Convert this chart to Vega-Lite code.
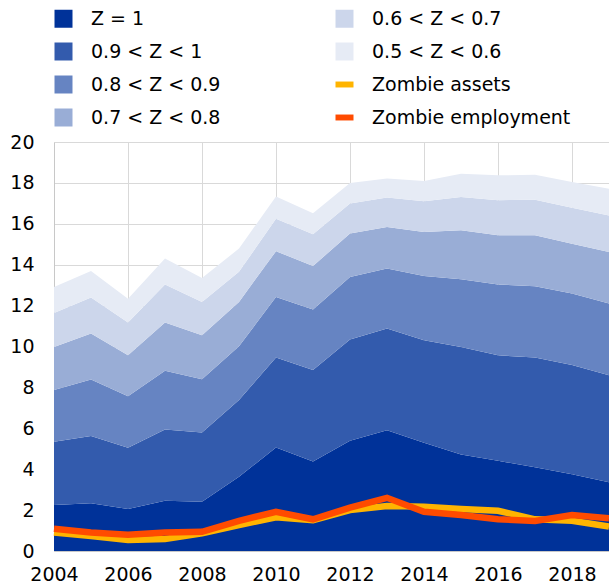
{
  "$schema": "https://vega.github.io/schema/vega-lite/v6.json",
  "width": 555,
  "height": 409,
  "autosize": {"type": "none"},
  "padding": {"left": 54, "top": 142, "right": 0, "bottom": 33},
  "background": "white",
  "config": {"view": {"stroke": null}, "font": "DejaVu Sans"},
  "datasets": {
    "bands": [
      {"year": 2004, "cat": "Z = 1", "v": 2.25}, {"year": 2004, "cat": "0.9 < Z < 1", "v": 3.09}, {"year": 2004, "cat": "0.8 < Z < 0.9", "v": 2.53}, {"year": 2004, "cat": "0.7 < Z < 0.8", "v": 2.11}, {"year": 2004, "cat": "0.6 < Z < 0.7", "v": 1.66}, {"year": 2004, "cat": "0.5 < Z < 0.6", "v": 1.27},
      {"year": 2005, "cat": "Z = 1", "v": 2.33}, {"year": 2005, "cat": "0.9 < Z < 1", "v": 3.29}, {"year": 2005, "cat": "0.8 < Z < 0.9", "v": 2.77}, {"year": 2005, "cat": "0.7 < Z < 0.8", "v": 2.24}, {"year": 2005, "cat": "0.6 < Z < 0.7", "v": 1.76}, {"year": 2005, "cat": "0.5 < Z < 0.6", "v": 1.30},
      {"year": 2006, "cat": "Z = 1", "v": 2.05}, {"year": 2006, "cat": "0.9 < Z < 1", "v": 3.00}, {"year": 2006, "cat": "0.8 < Z < 0.9", "v": 2.52}, {"year": 2006, "cat": "0.7 < Z < 0.8", "v": 2.00}, {"year": 2006, "cat": "0.6 < Z < 0.7", "v": 1.60}, {"year": 2006, "cat": "0.5 < Z < 0.6", "v": 1.17},
      {"year": 2007, "cat": "Z = 1", "v": 2.46}, {"year": 2007, "cat": "0.9 < Z < 1", "v": 3.48}, {"year": 2007, "cat": "0.8 < Z < 0.9", "v": 2.87}, {"year": 2007, "cat": "0.7 < Z < 0.8", "v": 2.36}, {"year": 2007, "cat": "0.6 < Z < 0.7", "v": 1.86}, {"year": 2007, "cat": "0.5 < Z < 0.6", "v": 1.27},
      {"year": 2008, "cat": "Z = 1", "v": 2.41}, {"year": 2008, "cat": "0.9 < Z < 1", "v": 3.39}, {"year": 2008, "cat": "0.8 < Z < 0.9", "v": 2.60}, {"year": 2008, "cat": "0.7 < Z < 0.8", "v": 2.15}, {"year": 2008, "cat": "0.6 < Z < 0.7", "v": 1.63}, {"year": 2008, "cat": "0.5 < Z < 0.6", "v": 1.17},
      {"year": 2009, "cat": "Z = 1", "v": 3.63}, {"year": 2009, "cat": "0.9 < Z < 1", "v": 3.75}, {"year": 2009, "cat": "0.8 < Z < 0.9", "v": 2.63}, {"year": 2009, "cat": "0.7 < Z < 0.8", "v": 2.17}, {"year": 2009, "cat": "0.6 < Z < 0.7", "v": 1.47}, {"year": 2009, "cat": "0.5 < Z < 0.6", "v": 1.14},
      {"year": 2010, "cat": "Z = 1", "v": 5.06}, {"year": 2010, "cat": "0.9 < Z < 1", "v": 4.40}, {"year": 2010, "cat": "0.8 < Z < 0.9", "v": 2.96}, {"year": 2010, "cat": "0.7 < Z < 0.8", "v": 2.24}, {"year": 2010, "cat": "0.6 < Z < 0.7", "v": 1.59}, {"year": 2010, "cat": "0.5 < Z < 0.6", "v": 1.09},
      {"year": 2011, "cat": "Z = 1", "v": 4.38}, {"year": 2011, "cat": "0.9 < Z < 1", "v": 4.47}, {"year": 2011, "cat": "0.8 < Z < 0.9", "v": 2.96}, {"year": 2011, "cat": "0.7 < Z < 0.8", "v": 2.13}, {"year": 2011, "cat": "0.6 < Z < 0.7", "v": 1.55}, {"year": 2011, "cat": "0.5 < Z < 0.6", "v": 1.03},
      {"year": 2012, "cat": "Z = 1", "v": 5.39}, {"year": 2012, "cat": "0.9 < Z < 1", "v": 4.95}, {"year": 2012, "cat": "0.8 < Z < 0.9", "v": 3.06}, {"year": 2012, "cat": "0.7 < Z < 0.8", "v": 2.12}, {"year": 2012, "cat": "0.6 < Z < 0.7", "v": 1.47}, {"year": 2012, "cat": "0.5 < Z < 0.6", "v": 1.00},
      {"year": 2013, "cat": "Z = 1", "v": 5.91}, {"year": 2013, "cat": "0.9 < Z < 1", "v": 4.97}, {"year": 2013, "cat": "0.8 < Z < 0.9", "v": 2.93}, {"year": 2013, "cat": "0.7 < Z < 0.8", "v": 2.03}, {"year": 2013, "cat": "0.6 < Z < 0.7", "v": 1.44}, {"year": 2013, "cat": "0.5 < Z < 0.6", "v": 0.93},
      {"year": 2014, "cat": "Z = 1", "v": 5.29}, {"year": 2014, "cat": "0.9 < Z < 1", "v": 5.02}, {"year": 2014, "cat": "0.8 < Z < 0.9", "v": 3.14}, {"year": 2014, "cat": "0.7 < Z < 0.8", "v": 2.15}, {"year": 2014, "cat": "0.6 < Z < 0.7", "v": 1.50}, {"year": 2014, "cat": "0.5 < Z < 0.6", "v": 0.99},
      {"year": 2015, "cat": "Z = 1", "v": 4.72}, {"year": 2015, "cat": "0.9 < Z < 1", "v": 5.26}, {"year": 2015, "cat": "0.8 < Z < 0.9", "v": 3.31}, {"year": 2015, "cat": "0.7 < Z < 0.8", "v": 2.39}, {"year": 2015, "cat": "0.6 < Z < 0.7", "v": 1.63}, {"year": 2015, "cat": "0.5 < Z < 0.6", "v": 1.14},
      {"year": 2016, "cat": "Z = 1", "v": 4.41}, {"year": 2016, "cat": "0.9 < Z < 1", "v": 5.16}, {"year": 2016, "cat": "0.8 < Z < 0.9", "v": 3.46}, {"year": 2016, "cat": "0.7 < Z < 0.8", "v": 2.41}, {"year": 2016, "cat": "0.6 < Z < 0.7", "v": 1.71}, {"year": 2016, "cat": "0.5 < Z < 0.6", "v": 1.22},
      {"year": 2017, "cat": "Z = 1", "v": 4.09}, {"year": 2017, "cat": "0.9 < Z < 1", "v": 5.37}, {"year": 2017, "cat": "0.8 < Z < 0.9", "v": 3.49}, {"year": 2017, "cat": "0.7 < Z < 0.8", "v": 2.49}, {"year": 2017, "cat": "0.6 < Z < 0.7", "v": 1.74}, {"year": 2017, "cat": "0.5 < Z < 0.6", "v": 1.22},
      {"year": 2018, "cat": "Z = 1", "v": 3.75}, {"year": 2018, "cat": "0.9 < Z < 1", "v": 5.34}, {"year": 2018, "cat": "0.8 < Z < 0.9", "v": 3.50}, {"year": 2018, "cat": "0.7 < Z < 0.8", "v": 2.44}, {"year": 2018, "cat": "0.6 < Z < 0.7", "v": 1.76}, {"year": 2018, "cat": "0.5 < Z < 0.6", "v": 1.25},
      {"year": 2019, "cat": "Z = 1", "v": 3.36}, {"year": 2019, "cat": "0.9 < Z < 1", "v": 5.24}, {"year": 2019, "cat": "0.8 < Z < 0.9", "v": 3.50}, {"year": 2019, "cat": "0.7 < Z < 0.8", "v": 2.52}, {"year": 2019, "cat": "0.6 < Z < 0.7", "v": 1.79}, {"year": 2019, "cat": "0.5 < Z < 0.6", "v": 1.31}
    ],
    "zombie": [
      {"year": 2004, "cat": "Zombie assets", "v": 0.91}, {"year": 2005, "cat": "Zombie assets", "v": 0.73}, {"year": 2006, "cat": "Zombie assets", "v": 0.54}, {"year": 2007, "cat": "Zombie assets", "v": 0.59},
      {"year": 2008, "cat": "Zombie assets", "v": 0.86}, {"year": 2009, "cat": "Zombie assets", "v": 1.27}, {"year": 2010, "cat": "Zombie assets", "v": 1.65}, {"year": 2011, "cat": "Zombie assets", "v": 1.51},
      {"year": 2012, "cat": "Zombie assets", "v": 2.00}, {"year": 2013, "cat": "Zombie assets", "v": 2.20}, {"year": 2014, "cat": "Zombie assets", "v": 2.17}, {"year": 2015, "cat": "Zombie assets", "v": 2.05},
      {"year": 2016, "cat": "Zombie assets", "v": 1.97}, {"year": 2017, "cat": "Zombie assets", "v": 1.55}, {"year": 2018, "cat": "Zombie assets", "v": 1.48}, {"year": 2019, "cat": "Zombie assets", "v": 1.19},
      {"year": 2004, "cat": "Zombie employment", "v": 1.09}, {"year": 2005, "cat": "Zombie employment", "v": 0.90}, {"year": 2006, "cat": "Zombie employment", "v": 0.80}, {"year": 2007, "cat": "Zombie employment", "v": 0.90},
      {"year": 2008, "cat": "Zombie employment", "v": 0.94}, {"year": 2009, "cat": "Zombie employment", "v": 1.47}, {"year": 2010, "cat": "Zombie employment", "v": 1.92}, {"year": 2011, "cat": "Zombie employment", "v": 1.55},
      {"year": 2012, "cat": "Zombie employment", "v": 2.12}, {"year": 2013, "cat": "Zombie employment", "v": 2.60}, {"year": 2014, "cat": "Zombie employment", "v": 1.92}, {"year": 2015, "cat": "Zombie employment", "v": 1.76},
      {"year": 2016, "cat": "Zombie employment", "v": 1.55}, {"year": 2017, "cat": "Zombie employment", "v": 1.47}, {"year": 2018, "cat": "Zombie employment", "v": 1.76}, {"year": 2019, "cat": "Zombie employment", "v": 1.60}
    ]
  },
  "layer": [
    {
      "data": {"name": "bands"},
      "mark": {"type": "area"},
      "encoding": {
        "x": {
          "field": "year", "type": "quantitative",
          "scale": {"domain": [2004, 2019], "nice": false, "zero": false},
          "axis": {
            "title": null, "values": [2004, 2005, 2006, 2007, 2008, 2009, 2010, 2011, 2012, 2013, 2014, 2015, 2016, 2017, 2018, 2019],
            "format": "d", "labelExpr": "datum.value % 2 == 0 ? datum.label : ''",
            "grid": true, "gridColor": "#d9d9d9", "gridWidth": 1, "ticks": false,
            "domain": true, "domainColor": "#c8c8c8", "domainWidth": 1,
            "labelFontSize": 19, "labelFont": "DejaVu Sans", "labelColor": "#000000", "labelPadding": 14, "labelFlush": false, "labelOverlap": false
          }
        },
        "y": {
          "field": "v", "type": "quantitative", "stack": "zero",
          "scale": {"domain": [0, 20], "nice": false},
          "axis": {
            "title": null, "values": [0, 2, 4, 6, 8, 10, 12, 14, 16, 18, 20],
            "grid": true, "gridColor": "#d9d9d9", "gridWidth": 1, "ticks": false,
            "domain": true, "domainColor": "#c8c8c8", "domainWidth": 1,
            "labelFontSize": 19, "labelFont": "DejaVu Sans", "labelColor": "#000000", "labelPadding": 20
          }
        },
        "color": {
          "field": "cat", "type": "nominal",
          "scale": {
            "domain": ["Z = 1", "0.9 < Z < 1", "0.8 < Z < 0.9", "0.7 < Z < 0.8", "0.6 < Z < 0.7", "0.5 < Z < 0.6", "Zombie assets", "Zombie employment"],
            "range": ["#003299", "#335BAD", "#6684C2", "#99ADD6", "#CCD6EB", "#E6EBF5", "#FFB400", "#FF4B00"]
          },
          "legend": {
            "title": null, "orient": "none", "legendX": 0, "legendY": -133,
            "columns": 2, "columnPadding": 114, "rowPadding": 13, "padding": 0,
            "symbolType": "square", "symbolSize": 324, "symbolStrokeWidth": 0,
            "labelFontSize": 19, "labelFont": "DejaVu Sans", "labelColor": "#000000", "labelOffset": 18, "labelLimit": 400,
            "encode": {
              "symbols": {
                "update": {
                  "shape": {"signal": "(datum.value == 'Zombie assets' || datum.value == 'Zombie employment') ? 'M-1,-0.33H1V0.33H-1Z' : 'square'"},
                  "fill": {"scale": "color", "field": "value"},
                  "stroke": {"value": "transparent"},
                  "strokeWidth": {"value": 0},
                  "opacity": {"value": 1},
                  "fillOpacity": {"value": 1}
                }
              }
            }
          }
        },
        "order": {"field": "cat", "sort": "descending"}
      }
    },
    {
      "data": {"name": "zombie"},
      "mark": {"type": "line", "strokeWidth": 6.5},
      "encoding": {
        "x": {"field": "year", "type": "quantitative"},
        "y": {"field": "v", "type": "quantitative", "stack": null},
        "color": {"field": "cat", "type": "nominal"}
      }
    }
  ]
}
